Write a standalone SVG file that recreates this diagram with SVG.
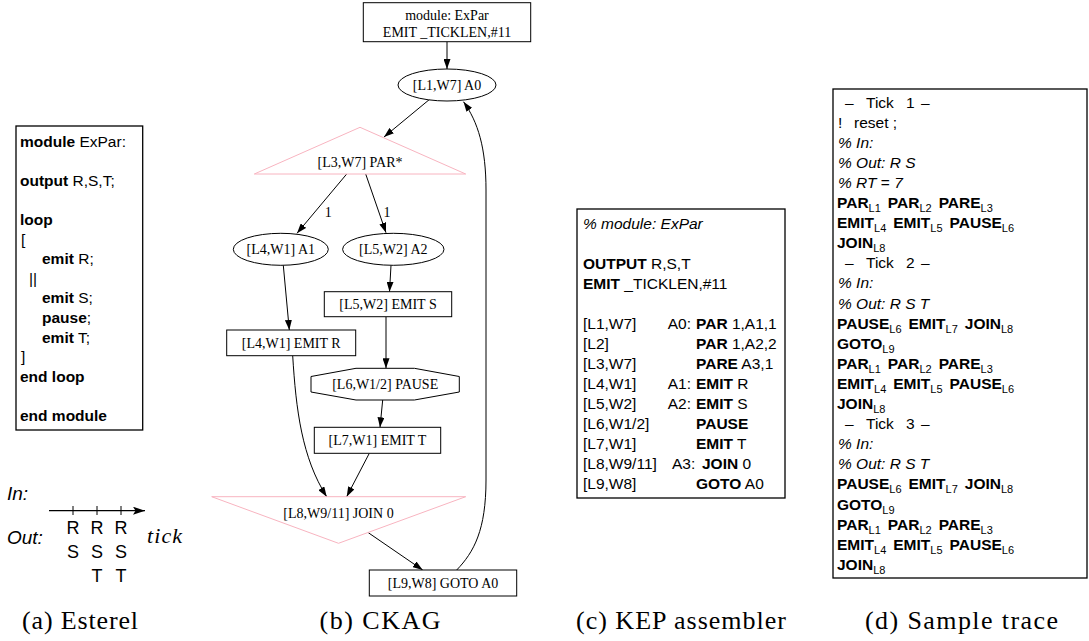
<svg xmlns="http://www.w3.org/2000/svg" width="1089" height="641" viewBox="0 0 1089 641">
<defs>
<marker id="ah" viewBox="0 0 10 7" refX="10" refY="3.5" markerWidth="10" markerHeight="7" markerUnits="userSpaceOnUse" orient="auto"><path d="M0,0 L10,3.5 L0,7 z" fill="#000"/></marker>
<marker id="ah2" viewBox="0 0 12 8" refX="12" refY="4" markerWidth="12" markerHeight="8" markerUnits="userSpaceOnUse" orient="auto"><path d="M0,0 L12,4 L0,8 L2.5,4 z" fill="#000"/></marker>
</defs>
<style>
.sans{font-family:"Liberation Sans",Arial,sans-serif;font-size:15.5px;fill:#000}
.b{font-weight:bold}
.i{font-style:italic}
.sub{font-size:11px;font-weight:normal}
.ser{font-family:"Liberation Serif","Times New Roman",serif;font-size:14px;fill:#000;text-anchor:middle}
.cap{font-family:"Liberation Serif","Times New Roman",serif;font-size:26px;fill:#000;text-anchor:middle}
.frame{fill:#fff;stroke:#000;stroke-width:1.3}
.node{fill:#fff;stroke:#000;stroke-width:1}
.tri{fill:none;stroke:#f8b4c0;stroke-width:1}
.edge{fill:none;stroke:#000;stroke-width:1;marker-end:url(#ah)}
</style>
<rect width="1089" height="641" fill="#fff"/>

<!-- (a) Esterel -->
<g id="esterel" class="sans">
<rect class="frame" x="16" y="126" width="126.7" height="304"/>
<text x="20" y="146.5"><tspan class="b">module</tspan> ExPar:</text>
<text x="20" y="185.7"><tspan class="b">output</tspan> R,S,T;</text>
<text x="20" y="224.9" class="b">loop</text>
<text x="21" y="244.5">[</text>
<text x="42" y="264.1"><tspan class="b">emit</tspan> R;</text>
<text x="29" y="283.7">||</text>
<text x="42" y="303.3"><tspan class="b">emit</tspan> S;</text>
<text x="42" y="322.9"><tspan class="b">pause</tspan>;</text>
<text x="42" y="342.5"><tspan class="b">emit</tspan> T;</text>
<text x="21" y="362.1">]</text>
<text x="20" y="381.7" class="b">end loop</text>
<text x="20" y="420.9" class="b">end module</text>
</g>

<g id="timeline">
<text x="7" y="499.5" class="sans i" style="font-size:19px">In:</text>
<text x="7" y="544" class="sans i" style="font-size:19px">Out:</text>
<line x1="49" y1="510.7" x2="145" y2="510.7" stroke="#000" stroke-width="1.2" marker-end="url(#ah2)"/>
<line x1="73" y1="506" x2="73" y2="515" stroke="#000" stroke-width="1"/>
<line x1="97" y1="506" x2="97" y2="515" stroke="#000" stroke-width="1"/>
<line x1="121" y1="506" x2="121" y2="515" stroke="#000" stroke-width="1"/>
<g class="sans" style="font-size:18px;text-anchor:middle">
<text x="73" y="533.5">R</text><text x="73" y="558">S</text>
<text x="97" y="533.5">R</text><text x="97" y="558">S</text><text x="97" y="581.5">T</text>
<text x="121" y="533.5">R</text><text x="121" y="558">S</text><text x="121" y="581.5">T</text>
</g>
<text x="147" y="543" style="font-family:'Liberation Serif',serif;font-style:italic;font-size:22px" textLength="35">tick</text>
</g>

<!-- (b) CKAG -->
<g id="edges">
<path class="edge" d="M447,41.7 L447,69"/>
<path class="edge" d="M430,99 L384,137"/>
<path class="edge" d="M346.7,174 L297,233.3"/>
<path class="edge" d="M365.7,174 L386,232.7"/>
<path class="edge" d="M283.3,265.3 L289.3,330"/>
<path class="edge" d="M391,265.3 L389.5,291.7"/>
<path class="edge" d="M386,316.7 L386,368.3"/>
<path class="edge" d="M292.7,355.7 C296,410 302,458 326.7,496.7"/>
<path class="edge" d="M382.7,400 L380,427.3"/>
<path class="edge" d="M369.3,453.3 L346.7,496.7"/>
<path class="edge" d="M368.3,532.7 L422.7,570"/>
<path class="edge" d="M456.7,570 C474,552 486,530 486,480 L486,190 C486,148 478,122 463.5,101.7"/>
<text class="ser" x="328.3" y="217">1</text>
<text class="ser" x="387" y="217">1</text>
</g>
<g id="n_module">
<rect class="node" x="363.3" y="2.7" width="167.4" height="39"/>
<text class="ser" x="447" y="19.8">module: ExPar</text>
<text class="ser" x="447" y="37.3">EMIT _TICKLEN,#11</text>
</g>
<g id="n_a0">
<ellipse class="node" cx="447" cy="85" rx="49" ry="16"/>
<text class="ser" x="447" y="89.8">[L1,W7] A0</text>
</g>
<g id="n_par">
<polygon class="tri" points="360,127.3 465.7,174 254.3,174"/>
<text class="ser" x="360" y="166.5">[L3,W7] PAR*</text>
</g>
<g id="n_a1">
<ellipse class="node" cx="280.8" cy="249.3" rx="47.5" ry="16"/>
<text class="ser" x="280.8" y="254">[L4,W1] A1</text>
</g>
<g id="n_a2">
<ellipse class="node" cx="393.3" cy="249.3" rx="50.7" ry="16"/>
<text class="ser" x="393.3" y="254">[L5,W2] A2</text>
</g>
<g id="n_emits">
<rect class="node" x="324.3" y="291.7" width="127.4" height="25"/>
<text class="ser" x="388" y="309.2">[L5,W2] EMIT S</text>
</g>
<g id="n_emitr">
<rect class="node" x="226.7" y="330" width="129" height="25.7"/>
<text class="ser" x="291.2" y="347.8">[L4,W1] EMIT R</text>
</g>
<g id="n_pause">
<polygon class="node" points="356,368.3 414.4,368.3 459.3,376.5 459.3,392 414.4,400 356,400 311,392 311,376.5"/>
<text class="ser" x="385.2" y="389">[L6,W1/2] PAUSE</text>
</g>
<g id="n_emitt">
<rect class="node" x="314.3" y="427.3" width="126.4" height="26"/>
<text class="ser" x="377.5" y="445.2">[L7,W1] EMIT T</text>
</g>
<g id="n_join">
<polygon class="tri" points="211.7,496.7 465.7,496.7 338.5,543.3"/>
<text class="ser" x="338.5" y="517.5">[L8,W9/11] JOIN 0</text>
</g>
<g id="n_goto">
<rect class="node" x="369.3" y="570" width="147.4" height="26"/>
<text class="ser" x="443" y="587.8">[L9,W8] GOTO A0</text>
</g>

<!-- (c) KEP assembler -->
<g id="kep" class="sans">
<rect class="frame" x="577" y="209" width="208" height="289"/>
<text x="583" y="228.5" class="i">% module: ExPar</text>
<text x="583" y="268.5"><tspan class="b">OUTPUT</tspan> R,S,T</text>
<text x="583" y="288.5"><tspan class="b">EMIT</tspan> _TICKLEN,#11</text>
<text x="583" y="328.5">[L1,W7]</text><text x="691" y="328.5" text-anchor="end">A0:</text><text x="696" y="328.5"><tspan class="b">PAR</tspan> 1,A1,1</text>
<text x="583" y="348.5">[L2]</text><text x="696" y="348.5"><tspan class="b">PAR</tspan> 1,A2,2</text>
<text x="583" y="368.5">[L3,W7]</text><text x="696" y="368.5"><tspan class="b">PARE</tspan> A3,1</text>
<text x="583" y="388.5">[L4,W1]</text><text x="691" y="388.5" text-anchor="end">A1:</text><text x="696" y="388.5"><tspan class="b">EMIT</tspan> R</text>
<text x="583" y="408.5">[L5,W2]</text><text x="691" y="408.5" text-anchor="end">A2:</text><text x="696" y="408.5"><tspan class="b">EMIT</tspan> S</text>
<text x="583" y="428.5">[L6,W1/2]</text><text x="696" y="428.5" class="b">PAUSE</text>
<text x="583" y="448.5">[L7,W1]</text><text x="696" y="448.5"><tspan class="b">EMIT</tspan> T</text>
<text x="583" y="468.5">[L8,W9/11]</text><text x="672" y="468.5">A3:</text><text x="702" y="468.5"><tspan class="b">JOIN</tspan> 0</text>
<text x="583" y="488.5">[L9,W8]</text><text x="696" y="488.5"><tspan class="b">GOTO</tspan> A0</text>
</g>

<!-- (d) Sample trace -->
<g id="trace" class="sans">
<rect class="frame" x="833" y="89" width="254" height="489"/>
<text y="107.5"><tspan x="845">–</tspan><tspan x="866">Tick</tspan><tspan x="906">1</tspan><tspan x="921">–</tspan></text>
<text y="127.6"><tspan x="838">!</tspan><tspan x="854">reset ;</tspan></text>
<text x="838" y="147.7" class="i">% In:</text>
<text x="838" y="167.8" class="i">% Out: R S</text>
<text x="838" y="187.9" class="i">% RT <tspan style="font-style:normal">=</tspan> 7</text>
<text x="837" y="208"><tspan class="b">PAR</tspan><tspan class="sub" dy="4">L1</tspan><tspan class="b" dx="7" dy="-4">PAR</tspan><tspan class="sub" dy="4">L2</tspan><tspan class="b" dx="7" dy="-4">PARE</tspan><tspan class="sub" dy="4">L3</tspan></text>
<text x="837" y="228.1"><tspan class="b">EMIT</tspan><tspan class="sub" dy="4">L4</tspan><tspan class="b" dx="7" dy="-4">EMIT</tspan><tspan class="sub" dy="4">L5</tspan><tspan class="b" dx="7" dy="-4">PAUSE</tspan><tspan class="sub" dy="4">L6</tspan></text>
<text x="837" y="248.2"><tspan class="b">JOIN</tspan><tspan class="sub" dy="4">L8</tspan></text>
<text y="268.3"><tspan x="845">–</tspan><tspan x="866">Tick</tspan><tspan x="906">2</tspan><tspan x="921">–</tspan></text>
<text x="838" y="288.4" class="i">% In:</text>
<text x="838" y="308.5" class="i">% Out: R S T</text>
<text x="837" y="328.6"><tspan class="b">PAUSE</tspan><tspan class="sub" dy="4">L6</tspan><tspan class="b" dx="7" dy="-4">EMIT</tspan><tspan class="sub" dy="4">L7</tspan><tspan class="b" dx="7" dy="-4">JOIN</tspan><tspan class="sub" dy="4">L8</tspan></text>
<text x="837" y="348.7"><tspan class="b">GOTO</tspan><tspan class="sub" dy="4">L9</tspan></text>
<text x="837" y="368.8"><tspan class="b">PAR</tspan><tspan class="sub" dy="4">L1</tspan><tspan class="b" dx="7" dy="-4">PAR</tspan><tspan class="sub" dy="4">L2</tspan><tspan class="b" dx="7" dy="-4">PARE</tspan><tspan class="sub" dy="4">L3</tspan></text>
<text x="837" y="388.9"><tspan class="b">EMIT</tspan><tspan class="sub" dy="4">L4</tspan><tspan class="b" dx="7" dy="-4">EMIT</tspan><tspan class="sub" dy="4">L5</tspan><tspan class="b" dx="7" dy="-4">PAUSE</tspan><tspan class="sub" dy="4">L6</tspan></text>
<text x="837" y="409"><tspan class="b">JOIN</tspan><tspan class="sub" dy="4">L8</tspan></text>
<text y="429.1"><tspan x="845">–</tspan><tspan x="866">Tick</tspan><tspan x="906">3</tspan><tspan x="921">–</tspan></text>
<text x="838" y="449.2" class="i">% In:</text>
<text x="838" y="469.3" class="i">% Out: R S T</text>
<text x="837" y="489.4"><tspan class="b">PAUSE</tspan><tspan class="sub" dy="4">L6</tspan><tspan class="b" dx="7" dy="-4">EMIT</tspan><tspan class="sub" dy="4">L7</tspan><tspan class="b" dx="7" dy="-4">JOIN</tspan><tspan class="sub" dy="4">L8</tspan></text>
<text x="837" y="509.5"><tspan class="b">GOTO</tspan><tspan class="sub" dy="4">L9</tspan></text>
<text x="837" y="529.6"><tspan class="b">PAR</tspan><tspan class="sub" dy="4">L1</tspan><tspan class="b" dx="7" dy="-4">PAR</tspan><tspan class="sub" dy="4">L2</tspan><tspan class="b" dx="7" dy="-4">PARE</tspan><tspan class="sub" dy="4">L3</tspan></text>
<text x="837" y="549.7"><tspan class="b">EMIT</tspan><tspan class="sub" dy="4">L4</tspan><tspan class="b" dx="7" dy="-4">EMIT</tspan><tspan class="sub" dy="4">L5</tspan><tspan class="b" dx="7" dy="-4">PAUSE</tspan><tspan class="sub" dy="4">L6</tspan></text>
<text x="837" y="569.8"><tspan class="b">JOIN</tspan><tspan class="sub" dy="4">L8</tspan></text>
</g>

<g id="captions">
<text class="cap" x="80" y="629" textLength="116">(a) Esterel</text>
<text class="cap" x="380" y="629" textLength="121">(b) CKAG</text>
<text class="cap" x="681" y="629" textLength="210">(c) KEP assembler</text>
<text class="cap" x="961.5" y="629" textLength="193">(d) Sample trace</text>
</g>
</svg>
